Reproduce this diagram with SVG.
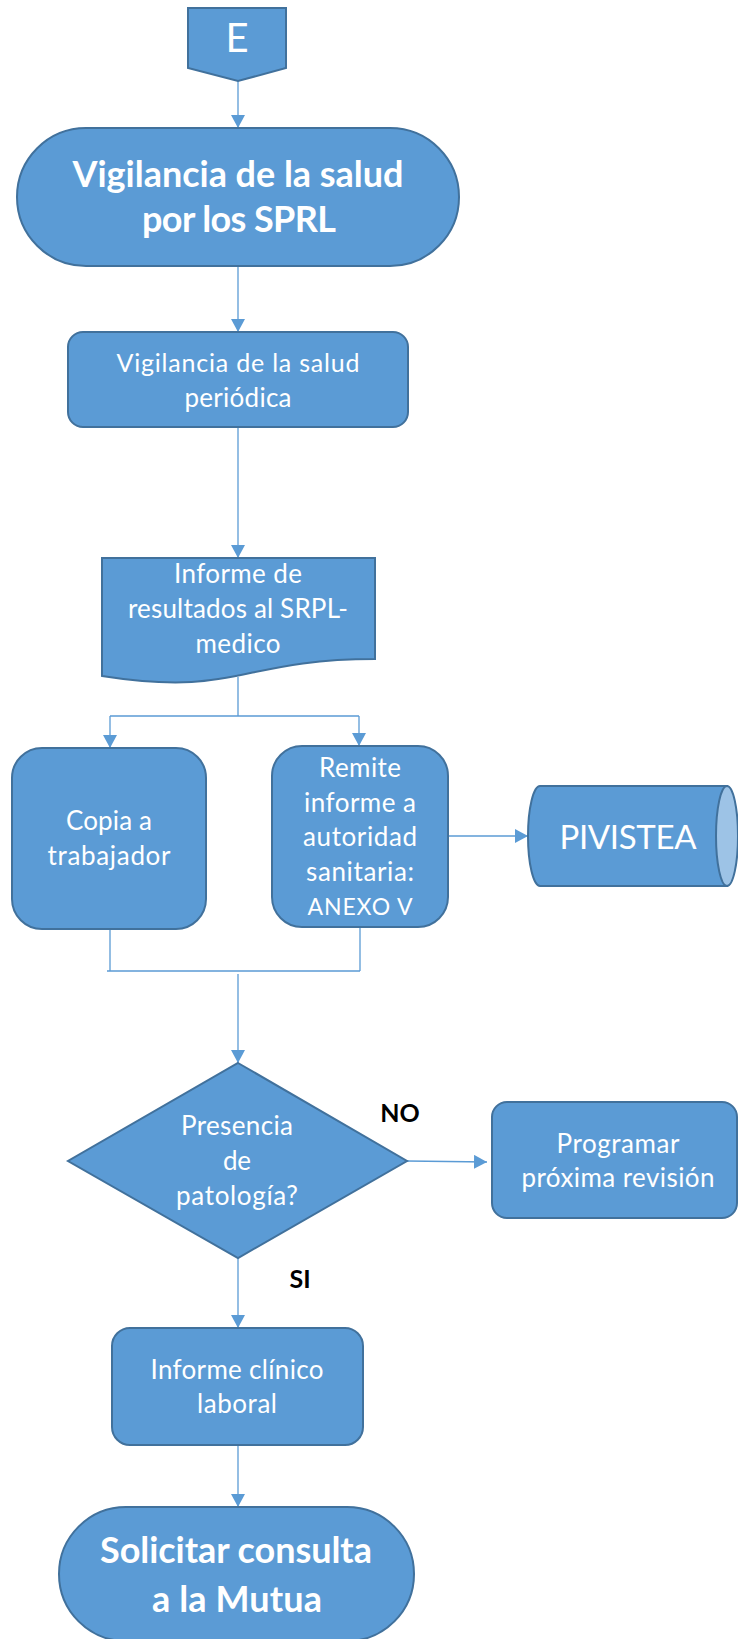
<svg xmlns="http://www.w3.org/2000/svg" width="738" height="1639" viewBox="0 0 738 1639">
<style>
.n{fill:#5b9bd5;stroke:#41719c;stroke-width:2}
.t{font-family:Lato,"Open Sans","Liberation Sans",sans-serif;fill:#ffffff;text-anchor:middle}
.r{font-size:26px}
.b{font-size:36px;font-weight:bold}
.lab{font-family:Lato,"Liberation Sans",sans-serif;font-weight:bold;font-size:25px;fill:#000000;text-anchor:middle}
.c{fill:none;stroke:#5b9bd5;stroke-width:1.3}
</style>
<defs>
<marker id="ah" markerUnits="userSpaceOnUse" markerWidth="14" markerHeight="14" viewBox="0 0 14 14" refX="13" refY="7" orient="auto">
<path d="M0,0 L13,7 L0,14 Z" fill="#5b9bd5"/>
</marker>
</defs>
<rect width="738" height="1639" fill="#ffffff"/>
<g id="connectors">
<path class="c" d="M238,81 V128" marker-end="url(#ah)"/>
<path class="c" d="M238,266 V332" marker-end="url(#ah)"/>
<path class="c" d="M238,427 V558" marker-end="url(#ah)"/>
<path class="c" d="M238,677 V716 M110,716 H359"/>
<path class="c" d="M110,716 V748" marker-end="url(#ah)"/>
<path class="c" d="M359,716 V746" marker-end="url(#ah)"/>
<path class="c" d="M448,836 H528" marker-end="url(#ah)"/>
<path class="c" d="M110,929 V971 M360,927 V971 M107,971 H360"/>
<path class="c" d="M238,974 V1063" marker-end="url(#ah)"/>
<path class="c" d="M407,1161 L487,1162" marker-end="url(#ah)"/>
<path class="c" d="M238,1258 V1328" marker-end="url(#ah)"/>
<path class="c" d="M238,1445 V1507" marker-end="url(#ah)"/>
<text class="lab" x="400" y="1122">NO</text>
<text class="lab" x="300" y="1288">SI</text>
</g>
<g id="node-E">
<polygon class="n" points="188,8 286,8 286,68 238,81 188,68"/>
<text class="t" x="237" y="52" style="font-size:40px">E</text>
</g>
<g id="node-vigilancia-sprl">
<rect class="n" x="17" y="128" width="442" height="138" rx="69"/>
<text class="t b" x="238" y="187" textLength="331" lengthAdjust="spacing">Vigilancia de la salud</text>
<text class="t b" x="239" y="232" textLength="194" lengthAdjust="spacing">por los SPRL</text>
</g>
<g id="node-periodica">
<rect class="n" x="68" y="332" width="340" height="95" rx="15"/>
<text class="t" x="238" y="372" style="font-size:25px" textLength="243" lengthAdjust="spacing">Vigilancia de la salud</text>
<text class="t r" x="238" y="407" textLength="107" lengthAdjust="spacing">periódica</text>
</g>
<g id="node-informe">
<path class="n" d="M102,558 H375 V659 C238.5,659 238.5,697.5 102,676 Z"/>
<text class="t r" x="238" y="583" textLength="128" lengthAdjust="spacing">Informe de</text>
<text class="t r" x="238" y="618" textLength="220" lengthAdjust="spacing">resultados al SRPL-</text>
<text class="t r" x="238" y="653" textLength="85" lengthAdjust="spacing">medico</text>
</g>
<g id="node-copia">
<rect class="n" x="12" y="748" width="194" height="181" rx="30"/>
<text class="t r" x="109" y="830" textLength="86" lengthAdjust="spacing">Copia a</text>
<text class="t r" x="109" y="865" textLength="123" lengthAdjust="spacing">trabajador</text>
</g>
<g id="node-remite">
<rect class="n" x="272" y="746" width="176" height="181" rx="30"/>
<text class="t r" x="360" y="777" textLength="82" lengthAdjust="spacing">Remite</text>
<text class="t r" x="360" y="812" textLength="112" lengthAdjust="spacing">informe a</text>
<text class="t r" x="360" y="846" textLength="114" lengthAdjust="spacing">autoridad</text>
<text class="t r" x="360" y="881" textLength="108" lengthAdjust="spacing">sanitaria:</text>
<text class="t" x="360" y="915" style="font-size:23px" textLength="105" lengthAdjust="spacing">ANEXO V</text>
</g>
<g id="node-pivistea">
<path class="n" d="M540,786 H727 V886 H540 A12,50 0 0,1 540,786 Z"/>
<ellipse cx="727" cy="836" rx="11" ry="50" fill="#9dc3e6" stroke="#41719c" stroke-width="2"/>
<text class="t" x="628" y="849" style="font-size:33px" textLength="137" lengthAdjust="spacing">PIVISTEA</text>
</g>
<g id="node-decision">
<polygon class="n" points="238,1063 407,1161 238,1258 68,1161"/>
<text class="t r" x="237" y="1135" textLength="112" lengthAdjust="spacing">Presencia</text>
<text class="t r" x="237" y="1170" textLength="28" lengthAdjust="spacing">de</text>
<text class="t r" x="237" y="1205" textLength="122" lengthAdjust="spacing">patología?</text>
</g>
<g id="node-programar">
<rect class="n" x="492" y="1102" width="245" height="116" rx="15"/>
<text class="t r" x="618" y="1153" textLength="123" lengthAdjust="spacing">Programar</text>
<text class="t r" x="618" y="1187" textLength="193" lengthAdjust="spacing">próxima revisión</text>
</g>
<g id="node-informe-clinico">
<rect class="n" x="112" y="1328" width="251" height="117" rx="18"/>
<text class="t r" x="237" y="1379" textLength="173" lengthAdjust="spacing">Informe clínico</text>
<text class="t r" x="237" y="1413" textLength="80" lengthAdjust="spacing">laboral</text>
</g>
<g id="node-mutua">
<rect class="n" x="59" y="1507" width="355" height="134" rx="67"/>
<text class="t b" x="236" y="1563" textLength="272" lengthAdjust="spacing">Solicitar consulta</text>
<text class="t b" x="237" y="1612" textLength="170" lengthAdjust="spacing">a la Mutua</text>
</g>
</svg>
